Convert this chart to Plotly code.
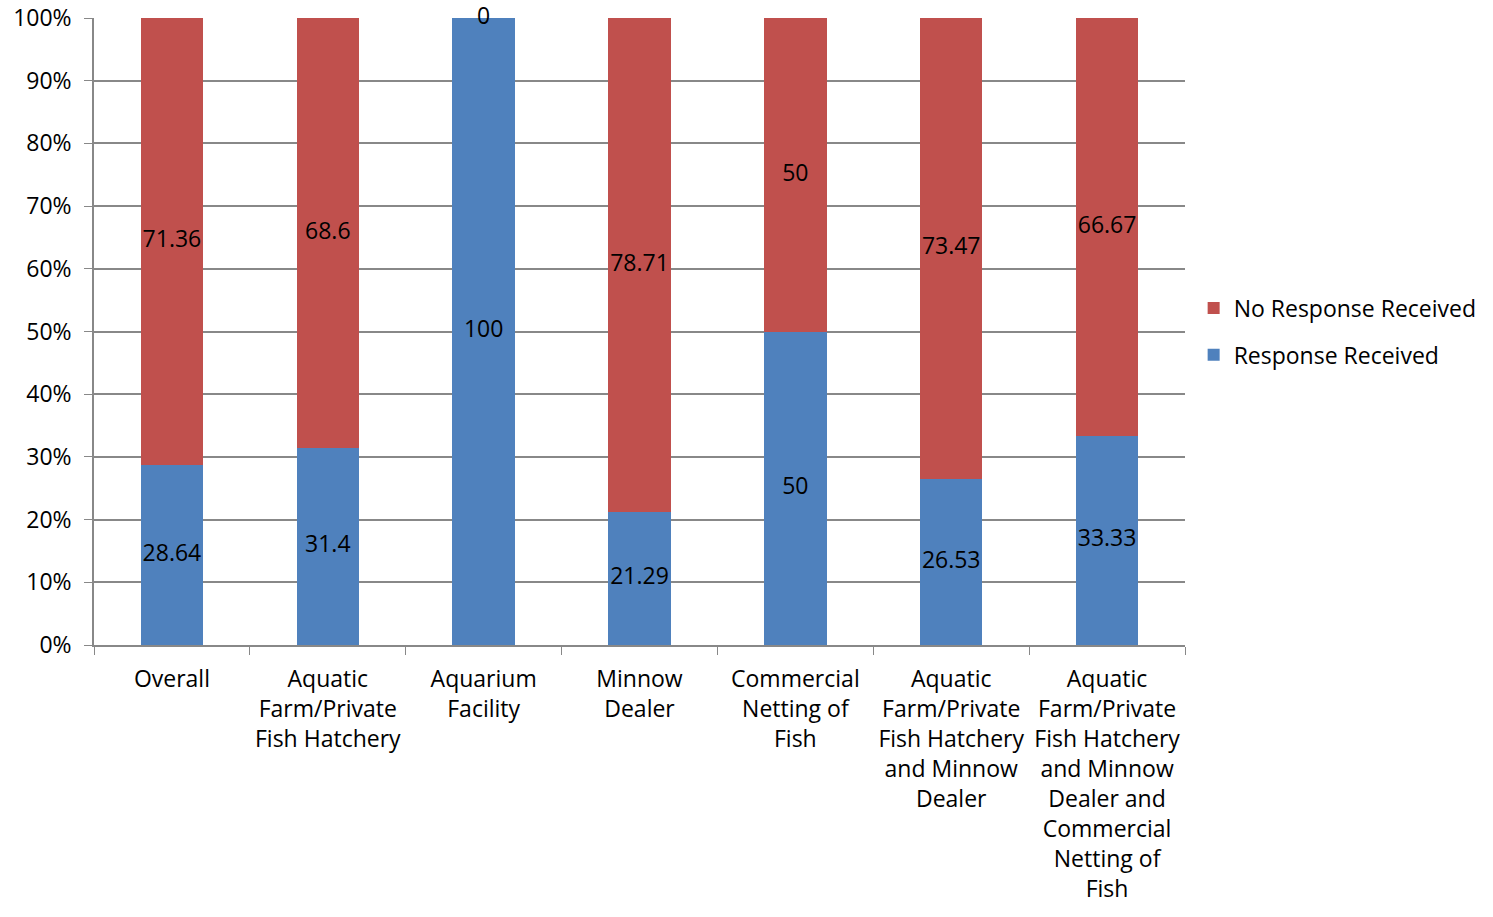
import plotly.graph_objects as go

categories = ["Overall", "Aquatic Farm/Private Fish Hatchery", "Aquarium Facility", "Minnow Dealer",
              "Commercial Netting of Fish", "Aquatic Farm/Private Fish Hatchery and Minnow Dealer",
              "Aquatic Farm/Private Fish Hatchery and Minnow Dealer and Commercial Netting of Fish"]
tick_labels = ["Overall", "Aquatic<br>Farm/Private<br>Fish Hatchery", "Aquarium<br>Facility", "Minnow<br>Dealer",
               "Commercial<br>Netting of<br>Fish", "Aquatic<br>Farm/Private<br>Fish Hatchery<br>and Minnow<br>Dealer",
               "Aquatic<br>Farm/Private<br>Fish Hatchery<br>and Minnow<br>Dealer and<br>Commercial<br>Netting of<br>Fish"]
response = [28.64, 31.4, 100, 21.29, 50, 26.53, 33.33]
no_response = [71.36, 68.6, 0, 78.71, 50, 73.47, 66.67]
label_resp = ["28.64", "31.4", "100", "21.29", "50", "26.53", "33.33"]
label_noresp = ["71.36", "68.6", "0", "78.71", "50", "73.47", "66.67"]

RED = "#C0504D"
BLUE = "#4F81BD"
FONT = "Open Sans"
FS = 23

fig = go.Figure()
fig.add_trace(go.Bar(x=categories, y=response, name="Response Received", marker_color=BLUE,
                     width=0.4, marker_line_width=0, legendgroup="r", legendrank=2))
fig.add_trace(go.Bar(x=categories, y=no_response, name="No Response Received", marker_color=RED,
                     width=0.4, marker_line_width=0, legendgroup="n", legendrank=1))

# data labels centred in each segment
fig.add_trace(go.Scatter(x=categories, y=[r / 2 for r in response], text=label_resp, mode="text",
                         textfont=dict(family=FONT, size=FS, color="black"), showlegend=False,
                         hoverinfo="skip", cliponaxis=False))
fig.add_trace(go.Scatter(x=categories, y=[r + n / 2 for r, n in zip(response, no_response)], text=label_noresp,
                         mode="text", textfont=dict(family=FONT, size=FS, color="black"), showlegend=False,
                         hoverinfo="skip", cliponaxis=False))

fig.update_layout(
    barmode="stack",
    width=1493, height=917,
    margin=dict(l=94, r=307, t=18, b=272),
    plot_bgcolor="white", paper_bgcolor="white",
    font=dict(family=FONT, size=FS, color="black"),
    legend=dict(x=1.007, y=0.5, xanchor="left", yanchor="middle", traceorder="grouped",
                font=dict(family=FONT, size=FS), itemwidth=30, tracegroupgap=14),
    showlegend=True,
)
fig.update_xaxes(type="category", tickmode="array", tickvals=categories, ticktext=tick_labels,
                 tickson="boundaries", ticks="outside", ticklen=8, tickcolor="#888888",
                 showline=True, linecolor="#888888", linewidth=1.5, showgrid=False,
                 tickangle=0, tickfont=dict(family=FONT, size=FS), automargin=False,
                 ticklabelstandoff=13)
fig.update_yaxes(range=[0, 100], tickvals=[0, 10, 20, 30, 40, 50, 60, 70, 80, 90, 100],
                 ticktext=[f"{v}%" for v in range(0, 101, 10)],
                 ticks="outside", ticklen=8, tickcolor="#888888",
                 showline=True, linecolor="#888888", linewidth=1.5,
                 showgrid=True, gridcolor="#888888", gridwidth=1.5, zeroline=False,
                 ticklabelstandoff=8, tickfont=dict(family=FONT, size=FS), automargin=False)

fig.write_html("out.html")
